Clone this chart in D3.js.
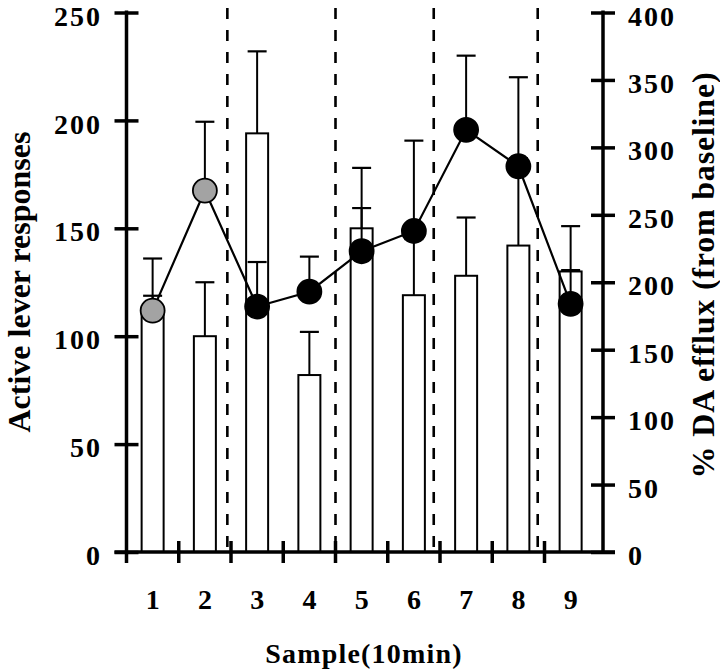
<!DOCTYPE html>
<html>
<head>
<meta charset="utf-8">
<script src="https://cdn.jsdelivr.net/npm/d3@7/dist/d3.min.js"></script>
<style>
  body { margin: 0; background: #fff; }
  svg text { font-family: "Liberation Serif", "Times New Roman", serif; font-weight: bold; fill: #000; }
</style>
</head>
<body>
<div id="chart"></div>
<script>
// values
const samples = [1, 2, 3, 4, 5, 6, 7, 8, 9];
const leverMean = [112, 100, 194, 82, 150, 119, 128, 142, 130];
const leverTop = [136, 125, 232, 102, 178, 145, 155, 220, 151];   // mean + SEM
const daMean = [179, 268, 182, 193, 223, 238, 313, 286, 184];
const daTop = [190, 319, 215, 219, 255, 305, 368, 292, 209];      // mean + SEM
const graySamples = [1, 2];
const dividers = [2.43, 4.5, 6.38, 8.37];   // dashed lines, in sample units
const leftTicks = [0, 50, 100, 150, 200, 250];
const rightTicks = [0, 50, 100, 150, 200, 250, 300, 350, 400];

class DualChart {
  constructor(config) {
    this.config = config;
    this.svg = null;
    this.createSvg();
    this.createScales();
  }

  createSvg() {
    this.svg = d3.select(this.config.div)
      .append("svg")
      .attr("width", this.config.width)
      .attr("height", this.config.height);
  }

  createScales() {
    const c = this.config;
    this.xScale = d3.scaleBand().domain(samples).range([c.left, c.left + samples.length * c.step]);
    this.center = d => this.xScale(d) + this.xScale.bandwidth() / 2;
    this.xLin = d3.scaleLinear().domain([1, 9]).range([this.center(1), this.center(9)]);
    this.yLeft = d3.scaleLinear().domain([0, 250]).range([c.bottom, c.top]);
    this.yRight = d3.scaleLinear().domain([0, 400]).range([c.bottom, c.top]);
  }

  renderAxes() {
    const c = this.config;

    // left axis
    const left = this.svg.append("g")
      .attr("transform", `translate(${c.left},0)`)
      .call(d3.axisLeft(this.yLeft).tickValues(leftTicks).tickSize(12))
      .attr("font-size", null).attr("font-family", null);
    left.select(".domain").remove();
    left.selectAll(".tick line").attr("x1", 12).attr("stroke-width", 3.5);
    left.selectAll(".tick text")
      .attr("x", -24.5).attr("dy", "0.45em")
      .style("font-size", "28px").style("letter-spacing", "2px");
    left.append("line")
      .attr("y1", this.yLeft(250) - 2).attr("y2", c.bottom + 11)
      .attr("stroke", "#000").attr("stroke-width", 3.5);

    // right axis
    const right = this.svg.append("g")
      .attr("transform", `translate(${c.rightAxis},0)`)
      .call(d3.axisRight(this.yRight).tickValues(rightTicks).tickSize(12))
      .attr("font-size", null).attr("font-family", null);
    right.select(".domain").remove();
    right.selectAll(".tick line").attr("x1", -12).attr("stroke-width", 3.5);
    right.selectAll(".tick text")
      .attr("x", 25).attr("dy", "0.45em")
      .style("font-size", "28px").style("letter-spacing", "2px");
    right.append("line")
      .attr("y1", this.yRight(400) - 2).attr("y2", c.bottom)
      .attr("stroke", "#000").attr("stroke-width", 3.5);

    // bottom axis
    const bottom = this.svg.append("g")
      .attr("transform", `translate(0,${c.bottom})`)
      .call(d3.axisBottom(this.xScale).tickSize(0))
      .attr("font-size", null).attr("font-family", null);
    bottom.select(".domain").remove();
    bottom.selectAll(".tick text")
      .attr("y", 57).attr("dy", 0)
      .style("font-size", "28px");
    bottom.append("line")
      .attr("x1", c.left - 12).attr("x2", c.rightAxis + 12)
      .attr("stroke", "#000").attr("stroke-width", 3.5);
    bottom.selectAll(".edge")
      .data(samples.slice(1))
      .join("line")
      .attr("class", "edge")
      .attr("x1", d => this.xScale(d)).attr("x2", d => this.xScale(d))
      .attr("y1", -11).attr("y2", 11)
      .attr("stroke", "#000").attr("stroke-width", 3.5);

    // titles
    this.svg.append("text")
      .attr("transform", `translate(30,282) rotate(-90)`)
      .attr("text-anchor", "middle")
      .style("font-size", "32px")
      .text("Active lever responses");

    this.svg.append("text")
      .attr("transform", `translate(714,275) rotate(-90)`)
      .attr("text-anchor", "middle")
      .style("font-size", "32px")
      .style("letter-spacing", "0.8px")
      .text("% DA efflux (from baseline)");

    this.svg.append("text")
      .attr("x", 364).attr("y", 663)
      .attr("text-anchor", "middle")
      .style("font-size", "28px")
      .style("letter-spacing", "1.2px")
      .text("Sample(10min)");
  }

  renderDividers() {
    const c = this.config;
    this.svg.append("g")
      .selectAll("line")
      .data(dividers)
      .join("line")
      .attr("x1", d => this.xLin(d)).attr("x2", d => this.xLin(d))
      .attr("y1", 8).attr("y2", c.bottom)
      .attr("stroke", "#000").attr("stroke-width", 2.6)
      .attr("stroke-dasharray", "11,11");
  }

  renderBars() {
    const c = this.config;
    const w = 22;
    const g = this.svg.append("g");
    g.selectAll("rect")
      .data(samples)
      .join("rect")
      .attr("x", d => this.center(d) - w / 2)
      .attr("width", w)
      .attr("y", (d, i) => this.yLeft(leverMean[i]))
      .attr("height", (d, i) => c.bottom - this.yLeft(leverMean[i]))
      .attr("fill", "#fff").attr("stroke", "#000").attr("stroke-width", 2);
    this.errorBars(g, leverMean, leverTop, this.yLeft);
  }

  errorBars(g, means, tops, y) {
    const cap = 19;
    g.selectAll(null).data(samples).join("line")
      .attr("x1", d => this.center(d)).attr("x2", d => this.center(d))
      .attr("y1", (d, i) => y(means[i])).attr("y2", (d, i) => y(tops[i]))
      .attr("stroke", "#000").attr("stroke-width", 2);
    g.selectAll(null).data(samples).join("line")
      .attr("x1", d => this.center(d) - cap / 2).attr("x2", d => this.center(d) + cap / 2)
      .attr("y1", (d, i) => y(tops[i])).attr("y2", (d, i) => y(tops[i]))
      .attr("stroke", "#000").attr("stroke-width", 2.2);
  }

  renderLine() {
    const g = this.svg.append("g");
    this.errorBars(g, daMean, daTop, this.yRight);
    g.append("path")
      .datum(samples)
      .attr("fill", "none")
      .attr("stroke", "#000")
      .attr("stroke-width", 2.2)
      .attr("d", d3.line()
        .x(d => this.center(d))
        .y((d, i) => this.yRight(daMean[i])));
    g.selectAll("circle")
      .data(samples)
      .join("circle")
      .attr("cx", d => this.center(d))
      .attr("cy", (d, i) => this.yRight(daMean[i]))
      .attr("r", 12)
      .attr("fill", d => graySamples.includes(d) ? "#a3a3a3" : "#000")
      .attr("stroke", "#000").attr("stroke-width", 1.8);
  }
}

const chart = new DualChart({
  div: "#chart", width: 720, height: 672,
  left: 126.5, step: 52.25, rightAxis: 603, top: 12.5, bottom: 552
});
chart.renderBars();
chart.renderDividers();
chart.renderLine();
chart.renderAxes();
</script>
</body>
</html>
